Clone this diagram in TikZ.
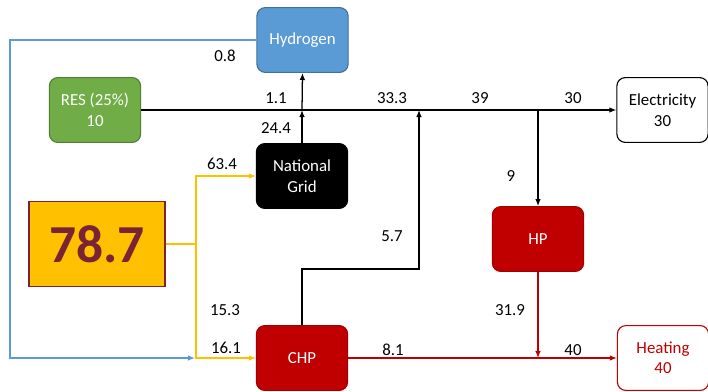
\documentclass[tikz,border=0pt]{standalone}
\usepackage{fontspec}
\setmainfont{Carlito}
\usetikzlibrary{arrows.meta, positioning}
\definecolor{hblue}{HTML}{5B9BD5}
\definecolor{hblueline}{HTML}{41719C}
\definecolor{resgreen}{HTML}{70AD47}
\definecolor{resline}{HTML}{507E32}
\definecolor{chpred}{HTML}{C00000}
\definecolor{chpline}{HTML}{A00000}
\definecolor{totyellow}{HTML}{FFC000}
\definecolor{totmaroon}{HTML}{7B2335}

\begin{document}
\begin{tikzpicture}[x=0.025cm, y=-0.025cm,
  box/.style={rounded corners=6pt, minimum width=2.28cm, minimum height=1.62cm,
              font=\fontsize{12}{14.5}\selectfont, align=center, line width=0.8pt},
  flow/.style={-{Latex[length=5pt,width=4pt]}, line width=0.9pt},
  val/.style={font=\fontsize{12}{14.5}\selectfont}
]
\useasboundingbox (0,0) rectangle (708,391);

\node[box, fill=hblue, draw=hblueline, text=white]   (hyd)  at (302.5,40)  {Hydrogen};
\node[box, fill=resgreen, draw=resline, text=white]  (res)  at (95,110)    {RES (25\%)\\10};
\node[box, fill=black, draw=black, text=white]       (grid) at (302,176)   {National\\Grid};
\node[box, fill=chpred, draw=chpline, text=white]    (chp)  at (302,358)   {CHP};
\node[box, fill=chpred, draw=chpline, text=white]    (hp)   at (538,239)   {HP};
\node[box, fill=white, draw=black]                   (elec) at (662.5,110) {Electricity\\30};
\node[box, fill=white, draw=chpred, text=chpred]     (heat) at (663,358)   {Heating\\40};
\node[fill=totyellow, draw=totmaroon, line width=1pt, text=totmaroon,
      minimum width=3.4cm, minimum height=2.12cm,
      font=\fontsize{38}{40}\selectfont\bfseries] (tot) at (97,244) {78.7};

\coordinate (hcorner) at (10,40);
\coordinate (hend)    at (195,358);
\coordinate (ysplit)  at (196,244);
\coordinate (gjoin)   at (302,110);
\coordinate (chpturn) at (419,269);
\coordinate (ejoin)   at (419,110);
\coordinate (hpsplit) at (538,110);
\coordinate (hjoin)   at (538,358);

% electricity line
\draw[flow] (res.east) -- (elec.west);
\draw[flow] (grid.north) -- (gjoin);
\draw[flow] (gjoin) -- (hyd.south);
\draw[flow] (chp.north) |- (chpturn) -- (ejoin);
\draw[flow] (hpsplit) -- (hp.north);

% heat
\draw[flow, chpred] (hp.south) -- (hjoin);
\draw[flow, chpred] (chp.east) -- (heat.west);

% hydrogen back to CHP
\draw[flow, hblue] (hyd.west) -- (hcorner) |- (hend);

% primary energy
\draw[line width=1pt, totyellow] (tot.east) -- (ysplit);
\draw[flow, totyellow] (ysplit) |- (grid.west);
\draw[flow, totyellow] (ysplit) |- (chp.west);

\node[val] (l08)  at (225,56)  {0.8};
\node[val] (l11)  at (276,98)  {1.1};
\node[val] (l244) at (276,128) {24.4};
\node[val] (l634) at (222,164) {63.4};
\node[val] (l333) at (392,98)  {33.3};
\node[val] (l39)  at (480,98)  {39};
\node[val] (l30)  at (573,98)  {30};
\node[val] (l9)   at (511,176) {9};
\node[val] (l57)  at (392,236) {5.7};
\node[val] (l153) at (225,310) {15.3};
\node[val] (l161) at (226,348) {16.1};
\node[val] (l319) at (510,310) {31.9};
\node[val] (l81)  at (393,350) {8.1};
\node[val] (l40)  at (573,350) {40};
\end{tikzpicture}
\end{document}
